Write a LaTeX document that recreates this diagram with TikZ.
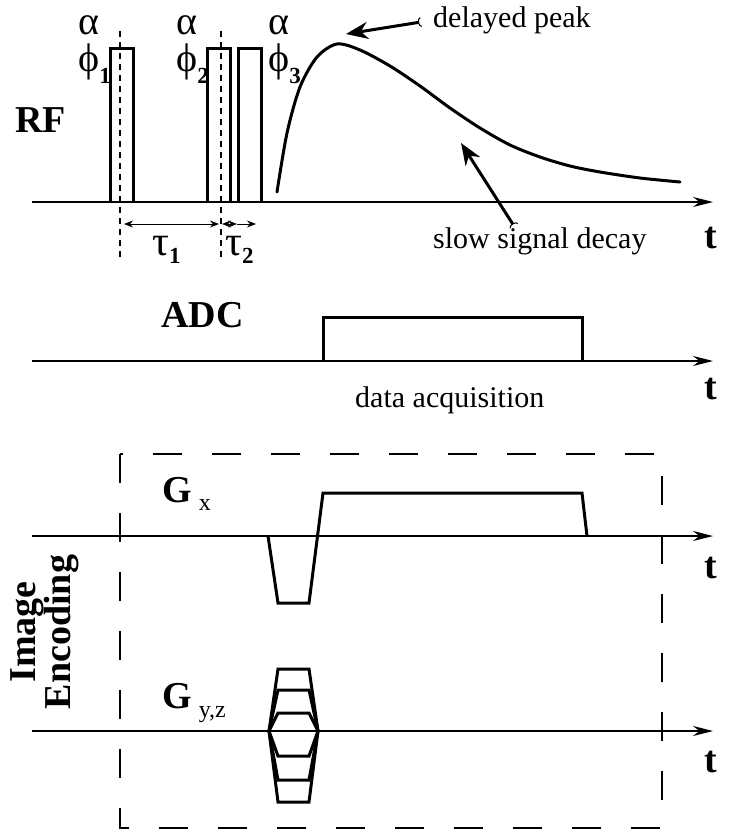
\documentclass[tikz,border=0pt]{standalone}
\usepackage{fontspec}
\setmainfont{Liberation Serif}
\usetikzlibrary{arrows.meta}

\newcommand{\subnum}[2][12pt]{\raisebox{-#1}{\fontsize{23}{23}\selectfont\bfseries #2}}
\newcommand{\subtxt}[2]{\raisebox{-#1}{\fontsize{24}{24}\selectfont\mdseries #2}}

\tikzset{
  axis/.style={line width=1.5pt,-{Stealth[length=20pt,width=10pt]}},
  wave/.style={line width=3pt,line join=miter},
  marker/.style={line width=1.5pt,dash pattern=on 6pt off 5pt},
  frame/.style={line width=1.5pt,dash pattern=on 29pt off 30pt},
  span/.style={line width=1pt,{Stealth[length=9pt,width=7pt]}-{Stealth[length=9pt,width=7pt]}},
  callout/.style={line width=3pt,{Arc Barb[reversed,length=3pt,width=10pt,line width=1pt]}-{Stealth[length=22pt,width=17pt,inset=7pt]}},
  title/.style={inner sep=0pt,font=\fontsize{38}{35}\selectfont\bfseries},
  greek/.style={inner sep=0pt,font=\fontsize{40}{40}\selectfont},
  note/.style={inner sep=0pt,font=\fontsize{30}{30}\selectfont},
}

\begin{document}
\begin{tikzpicture}[x=1pt,y=-1pt]
  \useasboundingbox (0,0) rectangle (729,838);

  % RF line
  \draw[axis] (32,202) -- (713,202);
  \node[title,anchor=base west] (rf) at (15,132) {RF};
  \node[title,anchor=base] (t1) at (711,248) {t};
  \draw[wave] (110,202) -- (110,48) -- (133,48) -- (133,202);
  \draw[wave] (207,202) -- (207,48) -- (230,48) -- (230,202);
  \draw[wave] (238,202) -- (238,48) -- (261,48) -- (261,202);
  \draw[marker] (120,31) -- (120,259);
  \draw[marker] (221,31) -- (221,259);
  \node[greek,anchor=base west] (a1) at (78,34) {α};
  \node[greek,anchor=base west] (p1) at (78,71) {ϕ\subnum{1}};
  \node[greek,anchor=base west] (a2) at (176,34) {α};
  \node[greek,anchor=base west] (p2) at (176,71) {ϕ\subnum{2}};
  \node[greek,anchor=base west] (a3) at (268,34) {α};
  \node[greek,anchor=base west] (p3) at (268,71) {ϕ\subnum{3}};
  \coordinate (s1) at (124,224);
  \coordinate (s2) at (219,224);
  \coordinate (s3) at (222,224);
  \coordinate (s4) at (237,224);
  \coordinate (s5) at (256,224);
  \draw[span] (s1) -- (s2);
  \draw[span] (s3) -- (s4);
  \draw[line width=1pt,-{Stealth[length=9pt,width=7pt]}] (s4) -- (s5);
  \node[greek,anchor=base west,font=\fontsize{42}{42}\selectfont] (tau1) at (152,255) {τ\subnum[8pt]{1}};
  \node[greek,anchor=base west,font=\fontsize{42}{42}\selectfont] (tau2) at (225,255) {τ\subnum[8pt]{2}};
  \draw[wave,line cap=round] plot[smooth,tension=0.5] coordinates {
    (277,192) (287,133) (300,87) (317,57) (337,44) (360,50) (390,66)
    (420,86) (450,108) (480,128) (510,145) (540,157) (570,166)
    (600,172) (640,178) (680,182)};
  \node[note,anchor=base west] (peak) at (433,27) {delayed peak};
  \node[note,anchor=base west] (decay) at (433,248) {slow signal decay};
  \coordinate (peaktail) at (421,22);
  \coordinate (peaktip) at (346,34);
  \coordinate (decaytail) at (514,226);
  \coordinate (decaytip) at (461,143);
  \draw[callout] (peaktail) -- (peaktip);
  \draw[callout] (decaytail) -- (decaytip);

  % ADC line
  \draw[axis] (32,361) -- (713,361);
  \node[title,anchor=base west] (adc) at (161,327) {ADC};
  \node[title,anchor=base] (t2) at (711,399) {t};
  \draw[wave] (323,361) -- (323,317) -- (582,317) -- (582,361);
  \node[note,anchor=base west] (acq) at (355,407) {data acquisition};

  % gradients
  \draw[frame] (120,454) rectangle (662,828);
  \node[title,anchor=center,rotate=90,align=center] (enc) at (45,632) {Image\\Encoding};

  \draw[axis] (32,536) -- (713,536);
  \node[title,anchor=base west] (gx) at (162,502) {G\hspace{7pt}\subtxt{8pt}{x}};
  \node[title,anchor=base] (t3) at (711,578) {t};
  \draw[wave] (268,536) -- (278,603) -- (309,603) -- (323,493) -- (582,493) -- (587,536);

  \draw[axis] (32,731) -- (713,731);
  \node[title,anchor=base west] (gyz) at (162,708) {G\hspace{7pt}\subtxt{9pt}{y,z}};
  \node[title,anchor=base] (t4) at (711,772) {t};
  \foreach \lev in {669,690,713,756,780,802}
    \draw[wave] (269,731) -- (278,\lev) -- (309,\lev) -- (318,731);
\end{tikzpicture}
\end{document}
